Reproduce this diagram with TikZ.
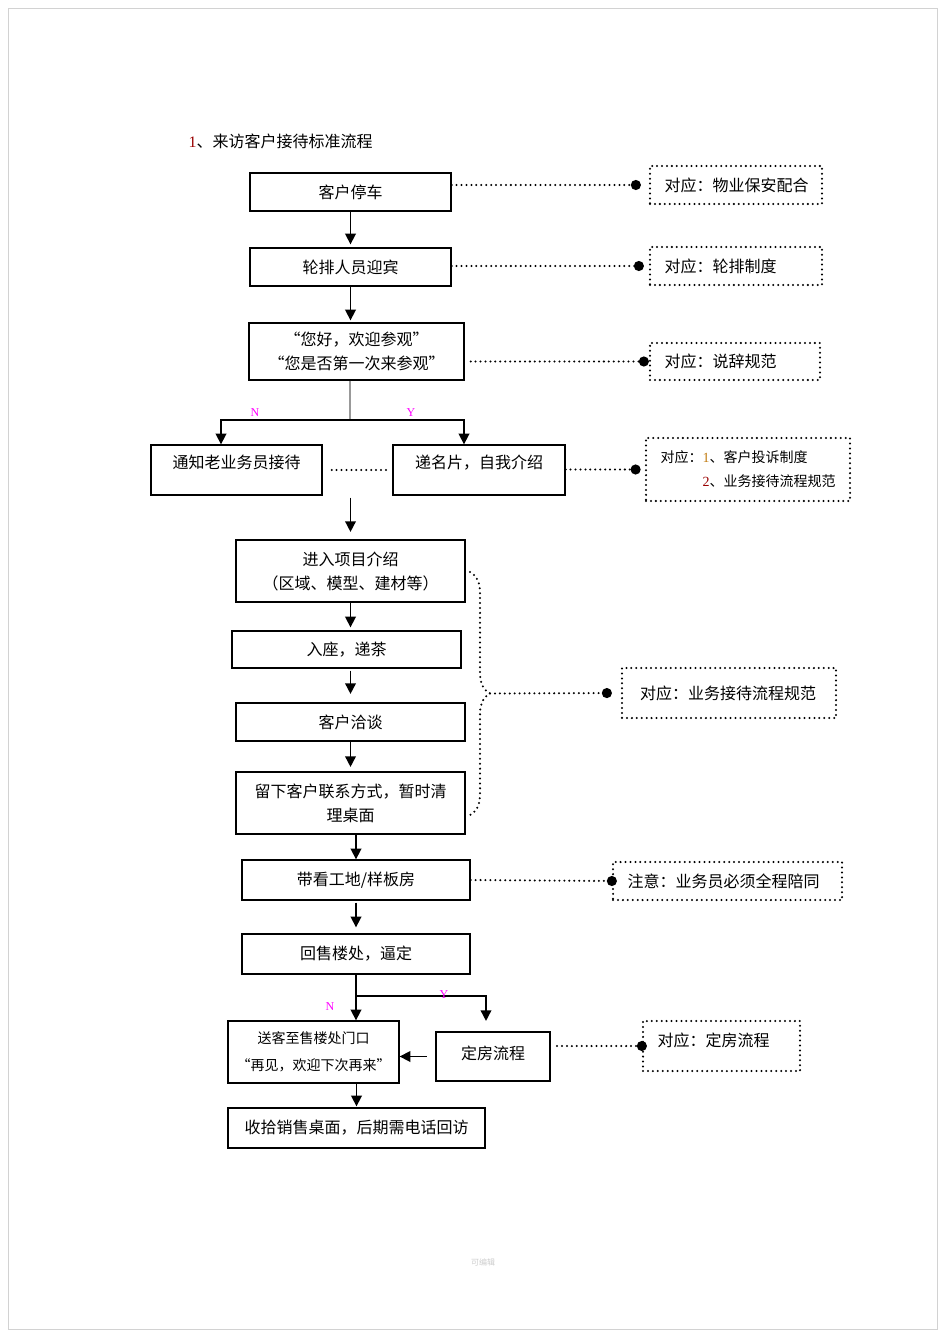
\documentclass[tikz,border=0pt]{standalone}
\usepackage{fontspec}
\setmainfont{Noto Sans CJK SC}
\newfontfamily\serifnum{Liberation Serif}
\usetikzlibrary{arrows.meta,calc,decorations.pathreplacing}
\definecolor{numred}{HTML}{990000}
\definecolor{numgold}{HTML}{C07A10}
\definecolor{yesno}{HTML}{FF00FF}

\begin{document}
\begin{tikzpicture}[x=0.75pt, y=-0.75pt,
    font=\fontsize{12}{18}\selectfont,
    box/.style={draw, line width=1pt, align=center, inner sep=0pt},
    heavy/.style={box, line width=1.6pt},
    dotline/.style={line width=1.7pt, dash pattern=on 0pt off 3.7pt, line cap=round},
    note/.style={draw, dotline, align=left, text width=#1, inner xsep=11pt, inner ysep=0pt},
    link/.style={dotline, -{Circle[length=7.5pt]}},
    arr/.style={line width=1.2pt, -{Triangle[length=8pt, width=8pt]}},
    yn/.style={text=yesno, font=\serifnum\fontsize{9}{9}\selectfont}]
    \useasboundingbox (0,0) rectangle (945,1337);
    \draw[gray!35, line width=0.6pt] (8,8) rectangle (937,1329);

    \node[anchor=west] (title) at (184,141) {{\serifnum\color{numred}1}、来访客户接待标准流程};

    \node[box, minimum width=150.75pt, minimum height=28.5pt] (b1) at (350.5,192) {客户停车};
    \node[box, minimum width=150.75pt, minimum height=28.5pt] (b2) at (350.5,267) {轮排人员迎宾};
    \node[box, minimum width=161.25pt, minimum height=42.75pt] (b3) at (356.5,351.5) {“您好，欢迎参观”\\“您是否第一次来参观”};
    \node[box, minimum width=128.25pt, minimum height=37.5pt, text depth=12pt] (b4) at (236.5,470) {通知老业务员接待};
    \node[box, minimum width=129pt, minimum height=37.5pt, text depth=12pt] (b5) at (479,470) {递名片，自我介绍};
    \node[heavy, minimum width=171.75pt, minimum height=46.5pt] (b6) at (350.5,571) {进入项目介绍\\（区域、模型、建材等）};
    \node[box, minimum width=171.75pt, minimum height=27.75pt] (b7) at (346.5,649.5) {入座，递茶};
    \node[heavy, minimum width=171.75pt, minimum height=28.5pt] (b8) at (350.5,722) {客户洽谈};
    \node[heavy, minimum width=171.75pt, minimum height=46.5pt] (b9) at (350.5,803) {留下客户联系方式，暂时清\\理桌面};
    \node[box, minimum width=171pt, minimum height=30pt] (b10) at (356,880) {带看工地/样板房};
    \node[box, minimum width=171pt, minimum height=30pt] (b11) at (356,954) {回售楼处，逼定};
    \node[box, minimum width=128.25pt, minimum height=46.5pt, font=\fontsize{10.5}{20}\selectfont] (b12) at (313.5,1052) {送客至售楼处门口\\“再见，欢迎下次再来”};
    \node[heavy, minimum width=85.5pt, minimum height=36.75pt, text depth=6pt] (b13) at (493,1056.5) {定房流程};
    \node[box, minimum width=192.75pt, minimum height=30pt] (b14) at (356.5,1128) {收拾销售桌面，后期需电话回访};

    \node[note=107pt, minimum height=28.5pt] (n1) at (736,185) {对应：物业保安配合};
    \node[note=107pt, minimum height=28.5pt] (n2) at (736,266) {对应：轮排制度};
    \node[note=105.5pt, minimum height=27.75pt] (n3) at (735,361.5) {对应：说辞规范};
    \node[note=131pt, minimum height=47.25pt, font=\fontsize{10.5}{18}\selectfont] (n4) at (748,469.5) {对应：{\serifnum\color{numgold}1}、客户投诉制度\\\hspace*{31.5pt}{\serifnum\color{numred}2}、业务接待流程规范};
    \node[note=133.5pt, inner xsep=13.5pt, minimum height=37.5pt] (n5) at (729,693) {对应：业务接待流程规范};
    \node[note=149.75pt, minimum height=28.5pt] (n6) at (727.5,881) {注意：业务员必须全程陪同};
    \node[note=95.75pt, minimum height=37.5pt, text depth=9pt] (n7) at (721.5,1046) {对应：定房流程};

    \draw[arr, shorten >=2.25pt] (b1.south) -- (b2.north);
    \draw[arr, shorten >=1.5pt] (b2.south) -- (b2.south |- b3.north);
    \coordinate (split1) at (350,420);
    \draw[gray!80, line width=0.9pt] (split1 |- b3.south) -- (split1);
    \draw[arr] (split1) -| ($(b4.north)+(-15.5,0)$);
    \draw[arr] (split1) -| ($(b5.north)+(-15,0)$);
    \node[yn] (no1) at (255,413) {N};
    \node[yn] (yes1) at (411,413) {Y};
    \draw[dotline, shorten <=6.75pt, shorten >=3.75pt] (b4.east) -- (b5.west);
    \draw[arr, shorten <=1.5pt, shorten >=5.25pt] (b6.north |- b5.south) -- (b6.north);
    \draw[arr, shorten >=2.25pt] (b6.south) -- (b6.south |- b7.north);
    \draw[arr, shorten <=1.5pt, shorten >=6pt] (b8.north |- b7.south) -- (b8.north);
    \draw[arr, shorten >=3pt] (b8.south) -- (b9.north);
    \draw[arr] (b10.north |- b9.south) -- (b10.north);
    \draw[arr, shorten <=1.5pt, shorten >=4.5pt] (b10.south) -- (b11.north);
    \coordinate (split2) at (357,996);
    \draw[arr] (b11.south) -- (b11.south |- b12.north);
    \draw[arr] (split2) -| ($(b13.north)+(-7,-10)$);
    \node[yn] (no2) at (330,1007) {N};
    \node[yn] (yes2) at (444,995) {Y};
    \draw[arr, shorten <=6pt] (b13.west) -- (b13.west -| b12.east);
    \draw[arr, shorten >=0.75pt] (b14.north |- b12.south) -- (b14.north);

    \draw[link, shorten >=6pt] (b1.east |- n1.west) -- (n1.west);
    \draw[link, shorten >=3.75pt] (b2.east |- n2.west) -- (n2.west);
    \draw[link, shorten <=4.5pt] (b3.east |- n3.west) -- (n3.west);
    \draw[link, shorten >=3.2pt] (b5.east |- n4.west) -- (n4.west);
    \coordinate (brace top) at (470,572);
    \coordinate (brace bottom) at (470,815);
    \coordinate (brace tip) at (490,693.5);
    \draw[dotline, decorate, decoration={brace, amplitude=15pt}] (brace top) -- (brace bottom);
    \draw[link, shorten >=6.75pt] (brace tip) -- (n5.west);
    \draw[link, shorten >=-3.75pt] (b10.east) -- (n6.west);
    \draw[link, shorten <=4.5pt, shorten >=-3.75pt] (b13.east |- n7.west) -- (n7.west);

    \node[text=gray!40, font=\fontsize{6}{6}\selectfont] (mark) at (483,1262) {可编辑};
\end{tikzpicture}
\end{document}
